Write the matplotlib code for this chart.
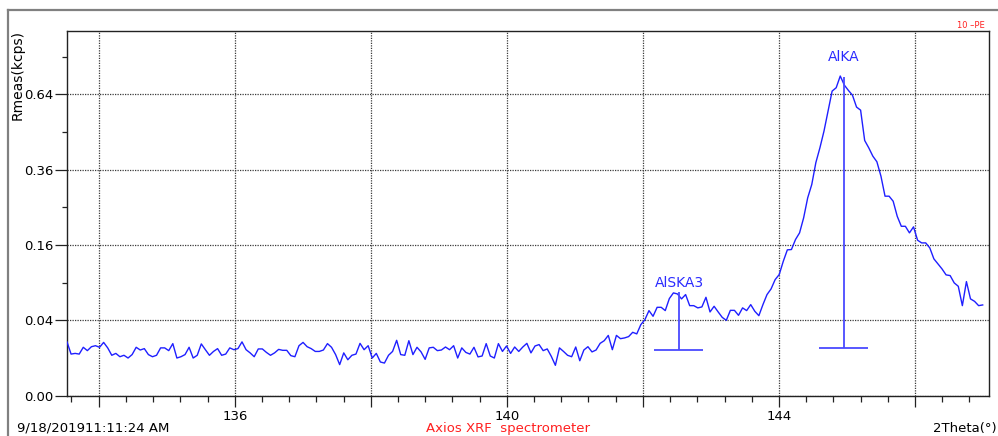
import numpy as np
import matplotlib
matplotlib.use('Agg')
import matplotlib.pyplot as plt
from matplotlib.ticker import MultipleLocator, FixedLocator, FuncFormatter
from matplotlib.lines import Line2D

scan_start = 133.534
scan_end = 146.995
rmeas = [
    # 133.5 - 136.2
    0.0204, 0.0122, 0.0126, 0.0122, 0.0165, 0.0143, 0.0169, 0.0176, 0.0165, 0.0200,
    0.0161, 0.0115, 0.0126, 0.0107, 0.0115, 0.0100, 0.0119, 0.0165, 0.0147, 0.0156,
    0.0119, 0.0107, 0.0115, 0.0161, 0.0161, 0.0143, 0.0191, 0.0100, 0.0107, 0.0119,
    0.0165, 0.0100, 0.0115, 0.0189, 0.0149, 0.0115, 0.0138, 0.0156, 0.0115, 0.0122,
    0.0161, 0.0149, 0.0156, 0.0204, 0.0149, 0.0129,
    # 136.2 - 139.0
    0.0107, 0.0154, 0.0154, 0.0132, 0.0115, 0.0129, 0.0151, 0.0145, 0.0145, 0.0113,
    0.0107, 0.0176, 0.0200, 0.0169, 0.0156, 0.0138, 0.0138, 0.0147, 0.0191, 0.0165,
    0.0119, 0.0068, 0.0129, 0.0091, 0.0115, 0.0122, 0.0193, 0.0149, 0.0176, 0.0100,
    0.0126, 0.0080, 0.0075, 0.0115, 0.0138, 0.0216, 0.0119, 0.0115, 0.0213, 0.0119,
    0.0165, 0.0135, 0.0093, 0.0161, 0.0165,
    # 139.0 - 141.8
    0.0143, 0.0147, 0.0167, 0.0149, 0.0176, 0.0100, 0.0161, 0.0132, 0.0122, 0.0165,
    0.0106, 0.0111, 0.0191, 0.0111, 0.0100, 0.0191, 0.0138, 0.0174, 0.0126, 0.0167,
    0.0138, 0.0167, 0.0193, 0.0129, 0.0174, 0.0184, 0.0143, 0.0154, 0.0109, 0.0065,
    0.0161, 0.0138, 0.0115, 0.0107, 0.0167, 0.0086, 0.0147, 0.0169, 0.0135, 0.0147,
    0.0193, 0.0213, 0.0256, 0.0149, 0.0256, 0.0229, 0.0235, 0.0246,
    # 141.8 - 144.0
    0.0283, 0.0269, 0.0356, 0.0407, 0.0510, 0.0444, 0.0550, 0.0550, 0.0510, 0.0664,
    0.0744, 0.0729, 0.0660, 0.0720, 0.0571, 0.0571, 0.0543, 0.0555, 0.0682, 0.0494,
    0.0563, 0.0494, 0.0432, 0.0400, 0.0513, 0.0513, 0.0455, 0.0543, 0.0510, 0.0584,
    0.0502, 0.0451, 0.0584, 0.0720, 0.0803, 0.0949, 0.1033,
    # 144.0 - 145.8 (AlKA peak)
    0.1272, 0.1498, 0.1504, 0.1717, 0.1867, 0.2227, 0.2757, 0.3141, 0.3824, 0.4327,
    0.4928, 0.5699, 0.6533, 0.6678, 0.7196, 0.6793, 0.6563, 0.6358, 0.5866, 0.5741,
    0.4587, 0.4327, 0.4042, 0.3853, 0.3392, 0.2803, 0.2803, 0.2663, 0.2266,
    # 145.8 - 147.0
    0.2021, 0.2021, 0.1867, 0.2007, 0.1702, 0.1644, 0.1644, 0.1538, 0.1319, 0.1223,
    0.1132, 0.1028, 0.1016, 0.0896, 0.0843, 0.0571, 0.0917, 0.0660, 0.0627, 0.0571,
    0.0580,
]

# line markers
peak_names = ['AlSKA3', 'AlKA']
peak_pos = [142.53, 144.955]
peak_top = [0.0753, 0.717]
peak_base = [0.0147, 0.0162]

y_major = [0.0, 0.04, 0.16, 0.36, 0.64]
y_minor = [0.09, 0.25, 0.49, 0.81]
x_labeled = [136, 140, 144]

W, H = 998, 436
fig = plt.figure(figsize=(W / 100, H / 100), dpi=100)
ax = fig.add_axes([67 / W, 1 - 395.7 / H, (989.3 - 67) / W, (395.7 - 31.3) / H])

two_theta = np.linspace(scan_start, scan_end, len(rmeas))
ax.plot(two_theta, rmeas, color='#1f1fff', lw=1.0, zorder=3)

# square-root intensity scale
ax.set_yscale('function', functions=(lambda v: np.sqrt(np.clip(v, 0, None)),
                                     lambda v: np.square(v)))
ax.set_xlim(133.534, 147.092)
ax.set_ylim(0, 0.935)

# peak markers and labels
label_off = [7, 14]
for name, pos, top, base, off in zip(peak_names, peak_pos, peak_top, peak_base, label_off):
    ax.vlines(pos, base, top, color='#4a4aff', lw=1.3, zorder=4)
    ax.hlines(base, pos - 0.36, pos + 0.36, color='#4a4aff', lw=1.3, zorder=4)
    ax.annotate(name, (pos, top), xytext=(0, off), textcoords='offset points',
                ha='center', va='center', color='#2b2bff', fontsize=10)

# ticks
ax.xaxis.set_major_locator(MultipleLocator(2))
ax.xaxis.set_minor_locator(MultipleLocator(0.4))
ax.xaxis.set_major_formatter(FuncFormatter(
    lambda v, p: f'{v:.0f}' if round(v) in x_labeled else ''))
ax.yaxis.set_major_locator(FixedLocator(y_major))
ax.yaxis.set_minor_locator(FixedLocator(y_minor))
ax.yaxis.set_major_formatter(FuncFormatter(lambda v, p: f'{v:.2f}'))
ax.yaxis.set_minor_formatter(FuncFormatter(lambda v, p: ''))

ax.tick_params(axis='x', which='major', length=8, width=0.9, pad=2, labelsize=9.5, color='#222222')
ax.tick_params(axis='x', which='minor', length=4.5, width=0.9, color='#222222')
ax.tick_params(axis='y', which='major', length=8.5, width=0.9, pad=1, labelsize=9.5, color='#222222')
ax.tick_params(axis='y', which='minor', length=3.5, width=0.9, color='#222222')

ax.grid(which='major', linestyle=(0, (1, 1)), color='#3a3a3a', lw=0.9)
for s in ax.spines.values():
    s.set_color('#222222')
    s.set_linewidth(1.0)

# outer frame
fig.add_artist(Line2D([8 / W, 1], [1 - 10 / H, 1 - 10 / H], color='#808080', lw=1.6))
fig.add_artist(Line2D([8 / W, 8 / W], [0, 1 - 10 / H], color='#808080', lw=1.6))

# texts
fig.text(18 / W, 1 - 30 / H, 'Rmeas(kcps)', rotation=90, ha='center', va='top', fontsize=10)
fig.text(17 / W, 1 - 428 / H, '9/18/201911:11:24 AM', ha='left', va='center', fontsize=9.5)
fig.text(508 / W, 1 - 428 / H, 'Axios XRF  spectrometer', ha='center', va='center',
         fontsize=9.5, color='#ff2020')
fig.text(997 / W, 1 - 428 / H, '2Theta(°)', ha='right', va='center', fontsize=9.5)
fig.text(985 / W, 1 - 25.5 / H, '10 –PE', ha='right', va='center', fontsize=6, color='#ff2020')

fig.savefig('out.png', dpi=100)
